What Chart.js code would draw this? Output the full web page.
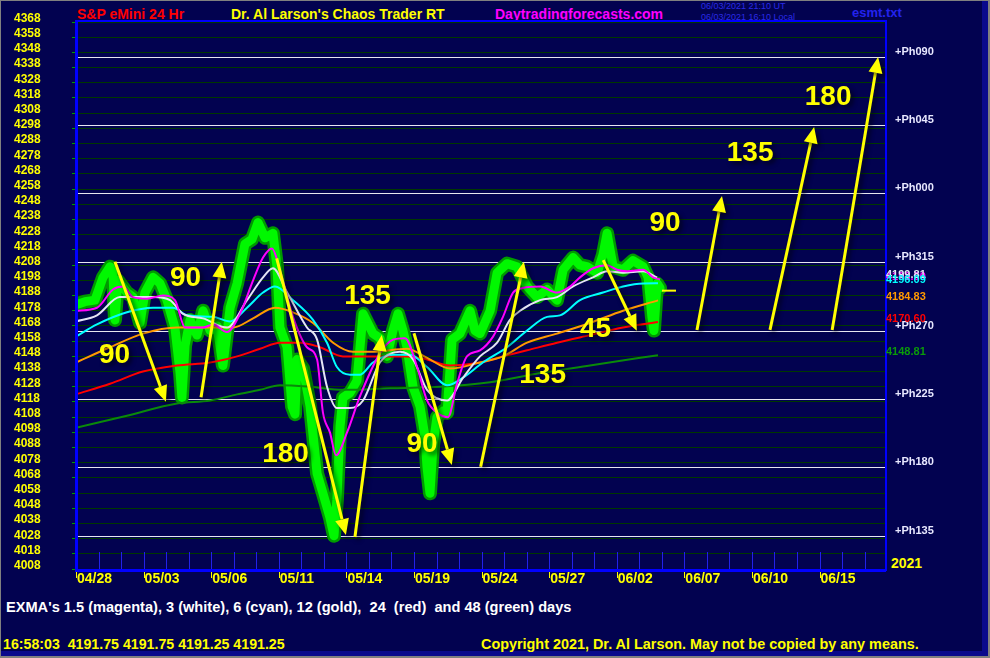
<!DOCTYPE html>
<html>
<head>
<meta charset="utf-8">
<script src="https://cdn.jsdelivr.net/npm/chart.js@4"></script>
<style>
html, body { margin: 0; padding: 0; background: #808080; }
#frame { position: relative; width: 990px; height: 658px; background: #808080; overflow: hidden; }
#strip { position: absolute; left: 1px; top: 1px; width: 987px; height: 655px; background: #0a0a8c; }
#bg { position: absolute; left: 1px; top: 1px; width: 981px; height: 650px; background: #020250; }
#c { position: absolute; left: 0; top: 0; }
.t { position: absolute; white-space: pre; font-family: 'Liberation Sans', Arial, sans-serif; font-weight: bold; font-size: 14px; line-height: 14px; }
.s { font-size: 9px; line-height: 9px; font-weight: normal; color: #2a2ae6; }
</style>
</head>
<body>
<div id="frame">
  <div id="strip"></div>
  <div id="bg"></div>
  <div class="t" style="left:77px;top:7px;color:#ff0000">S&amp;P eMini 24 Hr</div>
  <div class="t" style="left:231px;top:7px;color:#ffff00">Dr. Al Larson's Chaos Trader RT</div>
  <div class="t" style="left:495px;top:7px;color:#ff00ff">Daytradingforecasts.com</div>
  <div class="t s" style="left:701px;top:2px">06/03/2021 21:10 UT</div>
  <div class="t s" style="left:701px;top:13px">06/03/2021 16:10 Local</div>
  <div class="t" style="left:852px;top:6px;font-size:13px;line-height:13px;color:#2323ee">esmt.txt</div>
  <div class="t" style="left:891px;top:556px;color:#ffff00">2021</div>
  <div class="t" style="left:6px;top:600px;font-size:14.6px;line-height:14px;color:#ffffff">EXMA's 1.5 (magenta), 3 (white), 6 (cyan), 12 (gold),  24  (red)  and 48 (green) days</div>
  <div class="t" style="left:3px;top:637px;font-size:14.2px;color:#ffff00">16:58:03  4191.75 4191.75 4191.25 4191.25</div>
  <div class="t" style="left:481px;top:637px;font-size:14.4px;color:#ffff00">Copyright 2021, Dr. Al Larson. May not be copied by any means.</div>
  <canvas id="c" width="990" height="658"></canvas>
</div>
<script>
// x is in trading days from 04/28
const xTickDays = [0, 3, 6, 9, 12, 15, 18, 21, 24, 27, 30, 33];
const xTickLabels = ['04/28', '05/03', '05/06', '05/11', '05/14', '05/19', '05/24', '05/27', '06/02', '06/07', '06/10', '06/15'];
const yTicks = [4008, 4018, 4028, 4038, 4048, 4058, 4068, 4078, 4088, 4098, 4108, 4118, 4128, 4138, 4148, 4158, 4168, 4178,
  4188, 4198, 4208, 4218, 4228, 4238, 4248, 4258, 4268, 4278, 4288, 4298, 4308, 4318, 4328, 4338, 4348, 4358, 4368];

const priceDays = [0, 0.40, 0.84, 1.20, 1.51, 1.64, 1.73, 1.86, 2.26, 2.53, 2.84, 3.06, 3.42, 3.73, 4.04, 4.39, 4.62, 4.70, 4.84, 5.06,
  5.37, 5.64, 5.95, 6.26, 6.52, 6.84, 7.15, 7.50, 7.81, 8.08, 8.39, 8.74, 8.92, 9.05, 9.37, 9.59, 9.72, 9.81, 10.08, 10.39,
  10.70, 10.96, 11.27, 11.45, 11.58, 11.72, 11.85, 12.16, 12.47, 12.74, 13.18, 13.49, 13.80, 14.07, 14.29, 14.51, 14.69, 14.96, 15.27, 15.49,
  15.58, 15.71, 15.85, 16.02, 16.29, 16.47, 16.69, 17.04, 17.49, 17.71, 17.93, 18.38, 18.69, 19.13, 19.57, 20.02, 20.46, 20.91, 21.35, 21.62,
  22.06, 22.37, 22.68, 23.13, 23.39, 23.57, 23.84, 24.28, 24.72, 25.17, 25.39, 25.56, 25.65, 25.79, 25.92];
const priceVals = [4182, 4184, 4185, 4200, 4207, 4203, 4172, 4198, 4190, 4187, 4170, 4190, 4200, 4196, 4185, 4167, 4137, 4121, 4155, 4172,
  4162, 4178, 4165, 4168, 4142, 4180, 4196, 4222, 4225, 4236, 4226, 4229, 4207, 4167, 4154, 4115, 4110, 4146, 4140, 4115,
  4071, 4058, 4042, 4030, 4054, 4102, 4121, 4124, 4132, 4176, 4163, 4160, 4148, 4165, 4176, 4165, 4154, 4128, 4115, 4095,
  4075, 4058, 4090, 4108, 4112, 4111, 4159, 4163, 4178, 4165, 4163, 4178, 4203, 4209, 4207, 4194, 4187, 4192, 4185, 4205,
  4213, 4208, 4207, 4203, 4215, 4229, 4207, 4205, 4211, 4207, 4200, 4174, 4165, 4196, 4193];
const lastClose = 4191.25;

const magDays = [0, 0.93, 1.64, 2.09, 2.53, 3.15, 3.86, 4.39, 4.84, 5.64, 6.08, 6.70, 7.28, 7.86, 8.30, 8.70, 9.05, 9.63, 10.25, 10.70,
  10.96, 11.27, 11.54, 12.03, 12.61, 13.49, 14.07, 14.60, 15.14, 15.58, 16.02, 16.51, 16.91, 17.35, 17.93, 18.51, 18.95, 19.40, 19.84, 20.60,
  21.35, 21.93, 22.37, 22.95, 23.57, 24.01, 24.46, 25.17, 25.61, 25.92];
const magVals = [4178, 4180, 4192, 4194, 4187, 4186, 4188, 4185, 4167, 4167, 4169, 4164, 4176, 4198, 4213, 4219, 4205, 4174, 4154, 4146,
  4111, 4098, 4083, 4098, 4122, 4150, 4159, 4160, 4141, 4119, 4111, 4108, 4130, 4148, 4152, 4161, 4174, 4190, 4193, 4194,
  4190, 4194, 4200, 4206, 4208, 4205, 4204, 4205, 4200, 4198.6];

const whiteDays = [0, 0.93, 1.95, 2.71, 3.42, 4.17, 4.75, 5.64, 6.70, 7.59, 8.30, 8.74, 9.37, 10.25, 10.70, 11.14, 11.58, 12.16, 12.74, 13.49,
  14.38, 14.96, 15.58, 16.47, 17.18, 17.93, 18.69, 19.26, 19.71, 20.60, 21.35, 22.06, 22.95, 23.57, 24.28, 25.17, 25.79];
const whiteVals = [4171, 4175, 4187, 4187, 4187, 4185, 4176, 4173, 4167, 4185, 4200, 4206, 4190, 4167, 4159, 4128, 4114, 4114, 4119, 4144,
  4151, 4146, 4126, 4119, 4134, 4148, 4157, 4172, 4178, 4185, 4187, 4194, 4200, 4204, 4203, 4204, 4199.81];

const cyanDays = [0, 0.93, 2.26, 3.42, 4.31, 4.93, 6.08, 6.84, 7.59, 8.30, 8.83, 9.63, 10.52, 11.14, 11.58, 12.16, 12.61, 13.18, 14.07, 14.82,
  15.58, 16.47, 17.18, 18.06, 19.13, 20.02, 20.91, 21.48, 22.37, 23.39, 24.28, 25.17, 25.83];
const cyanVals = [4161, 4169, 4177, 4180, 4180, 4175, 4174, 4171, 4180, 4190, 4194, 4185, 4172, 4157, 4141, 4136, 4136, 4144, 4149, 4149,
  4141, 4129, 4134, 4144, 4154, 4165, 4174, 4175, 4185, 4190, 4194, 4196, 4196.09];

const goldDays = [0, 1.51, 2.97, 4.48, 5.95, 6.97, 7.86, 8.83, 9.63, 10.52, 11.41, 12.29, 13.18, 14.69, 15.58, 16.60, 17.93, 18.95, 20.02, 21.35,
  22.81, 24.28, 25.83];
const goldVals = [4144, 4154, 4163, 4167, 4167, 4167, 4173, 4180, 4177, 4170, 4157, 4151, 4151, 4153, 4147, 4140, 4144, 4148, 4157, 4163,
  4170, 4178, 4184.83];

const redDays = [0, 1.51, 2.97, 4.48, 5.95, 7.15, 8.17, 9.05, 9.94, 10.83, 11.85, 13.18, 14.69, 15.58, 16.60, 17.93, 18.95, 20.02, 21.35, 22.81,
  24.28, 25.83];
const redVals = [4123, 4130, 4138, 4142, 4144, 4148, 4153, 4157, 4157, 4154, 4148, 4148, 4148, 4146, 4142, 4144, 4148, 4152, 4157, 4162,
  4167, 4170.60];

const greenDays = [0, 2.26, 4.48, 5.95, 7.15, 8.17, 9.05, 10.39, 11.85, 13.94, 16.16, 18.38, 20.60, 22.81, 25.83];
const greenVals = [4101, 4109, 4117, 4119, 4123, 4126, 4129, 4128, 4126, 4127, 4128, 4131, 4137, 4142, 4148.81];

// phase lines
const phLevels = [4345, 4300, 4255.5, 4210, 4165, 4120, 4075, 4030];
const phNames = ['+Ph090', '+Ph045', '+Ph000', '+Ph315', '+Ph270', '+Ph225', '+Ph180', '+Ph135'];

// yellow move arrows [day, price] and their counts
const arrowFrom = [[1.73, 4210.3], [5.55, 4121.1], [8.91, 4212.5], [12.38, 4029.2], [15.0, 4163.2],
  [17.96, 4075.4], [23.4, 4211.4], [27.56, 4165.4], [30.8, 4165.4], [33.56, 4165.4]];
const arrowTo = [[3.99, 4118.2], [6.47, 4210.3], [11.98, 4030.5], [13.57, 4162.1], [16.68, 4076.6],
  [19.88, 4210.3], [24.89, 4164.9], [28.67, 4253.5], [32.76, 4298.9], [35.6, 4345]];
const moveLabels = ['90', '90', '180', '135', '90', '135', '45', '90', '135', '180'];
const moveDays = [1.71, 4.86, 9.30, 12.94, 15.36, 20.71, 23.06, 26.14, 29.92, 33.38];
const moveVals = [4148.6, 4199.3, 4083.8, 4187.7, 4090.4, 4135.8, 4166, 4235.8, 4281.8, 4318.7];

const pts = (xs, ys) => xs.map((x, i) => ({ x: x, y: ys[i] }));
const ema = (label, xs, ys, color, w, order) => ({
  label: label, data: pts(xs, ys), borderColor: color, borderWidth: w, pointRadius: 0,
  cubicInterpolationMode: 'monotone', fill: false, order: order
});

const emaLabels = [
  { vals: magVals, color: '#ff00ff' },
  { vals: whiteVals, color: '#e4e4f4' },
  { vals: cyanVals, color: '#00ffff' },
  { vals: goldVals, color: '#ff9900' },
  { vals: redVals, color: '#ff0000' },
  { vals: greenVals, color: '#0a9a0a' }
];

const overlay = {
  id: 'overlay',
  beforeDatasetsDraw(chart) {
    const { ctx, chartArea: a, scales: { x, y } } = chart;
    ctx.save();
    ctx.strokeStyle = '#e6e6f0';
    ctx.lineWidth = 1;
    phLevels.forEach(v => {
      const py = Math.round(y.getPixelForValue(v)) + 0.5;
      ctx.beginPath(); ctx.moveTo(a.left, py); ctx.lineTo(a.right, py); ctx.stroke();
    });
    // daily marks along the bottom
    ctx.strokeStyle = '#2222e8';
    for (let d = 1; d < 36; d++) {
      const px = Math.round(x.getPixelForValue(d)) + 0.5;
      ctx.beginPath(); ctx.moveTo(px, a.bottom - 19); ctx.lineTo(px, a.bottom); ctx.stroke();
    }
    ctx.restore();
  },
  afterDatasetsDraw(chart) {
    const { ctx, chartArea: a, scales: { x, y } } = chart;
    ctx.save();
    // blue frame
    ctx.fillStyle = '#0000ff';
    ctx.fillRect(a.left - 1, a.top - 1, 3, a.bottom - a.top + 2);
    ctx.fillRect(a.left - 1, a.bottom - 2, a.right - a.left + 1, 3);
    ctx.fillRect(a.left, a.top - 1, a.right - a.left, 2);
    ctx.fillRect(a.right - 1, a.top - 1, 2, a.bottom - a.top + 1);
    // yellow date ticks
    ctx.fillStyle = '#ffff00';
    xTickDays.forEach(d => ctx.fillRect(Math.round(x.getPixelForValue(d)), a.bottom + 1, 1, 6));
    // last price marker
    const ly = y.getPixelForValue(lastClose);
    const lx = x.getPixelForValue(priceDays[priceDays.length - 1]);
    ctx.fillRect(lx + 2, ly - 1, 14, 2);

    // right side labels
    ctx.font = "bold 11px 'Liberation Sans', Arial, sans-serif";
    ctx.textBaseline = 'middle';
    ctx.textAlign = 'left';
    ctx.fillStyle = '#e8e8ff';
    phLevels.forEach((v, i) => ctx.fillText(phNames[i], a.right + 9, y.getPixelForValue(v) - 5));
    emaLabels.forEach(e => {
      const v = e.vals[e.vals.length - 1];
      ctx.fillStyle = e.color;
      ctx.fillText(v.toFixed(2), a.right, y.getPixelForValue(v) - 3);
    });

    // arrows and counts
    ctx.shadowColor = 'rgba(0,0,0,0.6)';
    ctx.shadowBlur = 4;
    ctx.shadowOffsetX = 3;
    ctx.shadowOffsetY = 3;
    ctx.strokeStyle = '#ffff00';
    ctx.fillStyle = '#ffff00';
    ctx.lineWidth = 3;
    arrowFrom.forEach((f, i) => {
      const x0 = x.getPixelForValue(f[0]), y0 = y.getPixelForValue(f[1]);
      const x1 = x.getPixelForValue(arrowTo[i][0]), y1 = y.getPixelForValue(arrowTo[i][1]);
      const ang = Math.atan2(y1 - y0, x1 - x0), L = 16, W = 7;
      const bx = x1 - L * Math.cos(ang), by = y1 - L * Math.sin(ang);
      ctx.beginPath(); ctx.moveTo(x0, y0); ctx.lineTo(bx, by); ctx.stroke();
      ctx.beginPath();
      ctx.moveTo(x1, y1);
      ctx.lineTo(bx + W * Math.sin(ang), by - W * Math.cos(ang));
      ctx.lineTo(bx - W * Math.sin(ang), by + W * Math.cos(ang));
      ctx.closePath(); ctx.fill();
    });
    ctx.font = "bold 28px 'Liberation Sans', Arial, sans-serif";
    ctx.textAlign = 'center';
    moveLabels.forEach((t, i) => ctx.fillText(t, x.getPixelForValue(moveDays[i]), y.getPixelForValue(moveVals[i])));
    ctx.restore();
  }
};

new Chart(document.getElementById('c'), {
  type: 'line',
  data: {
    datasets: [
      { label: 'price edge', data: pts(priceDays, priceVals), borderColor: '#009a00', borderWidth: 14, pointRadius: 0,
        tension: 0, borderJoinStyle: 'round', borderCapStyle: 'round', fill: false, order: 10 },
      { label: 'price', data: pts(priceDays, priceVals), borderColor: '#00f800', borderWidth: 9, pointRadius: 0,
        tension: 0, borderJoinStyle: 'round', borderCapStyle: 'round', fill: false, order: 9 },
      ema('48', greenDays, greenVals, '#0a8a0a', 2, 6),
      ema('24', redDays, redVals, '#ff0000', 2, 5),
      ema('12', goldDays, goldVals, '#ff9900', 2, 4),
      ema('6', cyanDays, cyanVals, '#00ffff', 2, 3),
      ema('3', whiteDays, whiteVals, '#e4e4f4', 2, 2),
      ema('1.5', magDays, magVals, '#ff00ff', 2, 1)
    ]
  },
  options: {
    responsive: false,
    animation: false,
    events: [],
    layout: { padding: { top: 21, right: 104, left: 14, bottom: 0 } },
    plugins: { legend: { display: false }, tooltip: { enabled: false } },
    scales: {
      x: {
        type: 'linear', min: 0, max: 35.95,
        afterFit: s => { s.height = 87; },
        afterBuildTicks: s => { s.ticks = xTickDays.map(v => ({ value: v })); },
        grid: { display: false, drawTicks: false },
        border: { display: false },
        ticks: {
          autoSkip: false, maxRotation: 0, minRotation: 0, align: 'start', padding: 0, labelOffset: 1,
          color: '#ffff00', font: { family: "'Liberation Sans', Arial, sans-serif", weight: 'bold', size: 14 },
          callback: (v, i) => xTickLabels[i]
        }
      },
      y: {
        type: 'linear', min: 4006.8, max: 4368.66,
        afterFit: s => { s.width = 62; },
        afterBuildTicks: s => { s.ticks = yTicks.map(v => ({ value: v })); },
        grid: { color: '#003800', lineWidth: 1, tickColor: '#00a000', tickLength: 4, drawTicks: true },
        border: { display: false },
        ticks: {
          autoSkip: false, padding: 0, crossAlign: 'far', labelOffset: -3.5, color: '#ffff00',
          font: { family: "'Liberation Sans', Arial, sans-serif", weight: 'bold', size: 12 },
          callback: v => String(v)
        }
      }
    }
  },
  plugins: [overlay]
});
</script>
</body>
</html>
